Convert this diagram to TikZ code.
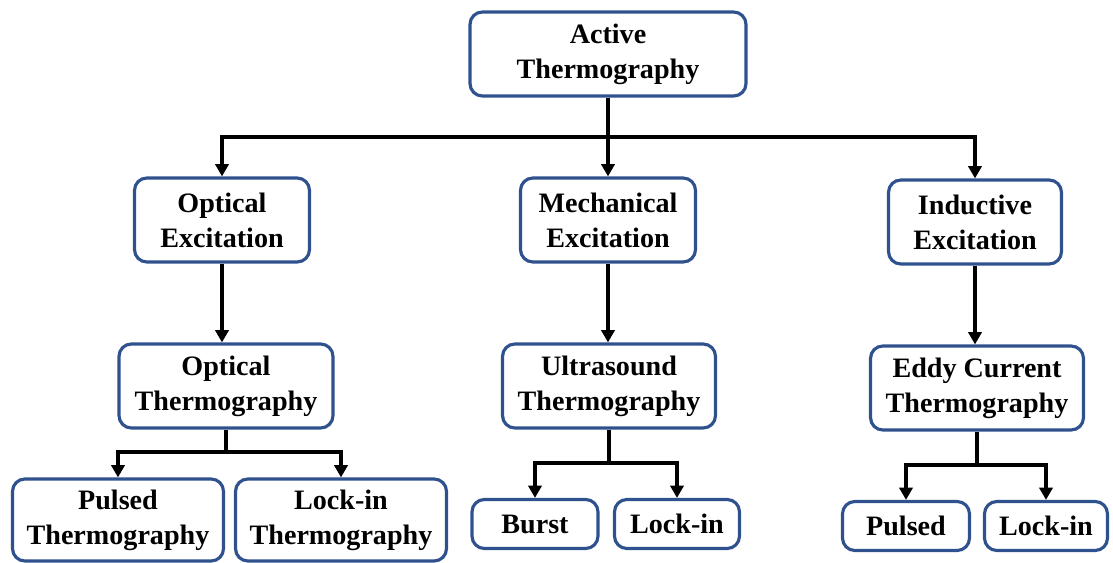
\documentclass[tikz,border=0pt]{standalone}
\usepackage{fontspec}
\setmainfont{Liberation Serif}
\usepackage{xcolor}
\usetikzlibrary{arrows.meta, positioning}

\definecolor{boxblue}{HTML}{2F528F}

\tikzset{
  box/.style={draw=boxblue, line width=1.8pt, rounded corners=7pt, fill=white,
    align=center, inner sep=0pt, font=\bfseries\fontsize{16}{20}\selectfont},
  bigbox/.style={box, minimum height=1.68cm},
  smallbox/.style={box, minimum height=0.98cm},
  link/.style={line width=1.9pt, -{Triangle[length=7pt,width=7.5pt]}},
  trunk/.style={line width=1.9pt}
}

\begin{document}
\begin{tikzpicture}[x=0.02cm, y=-0.02cm]
    \useasboundingbox (0,0) rectangle (1113,563);

    % Root
    \node[bigbox, minimum width=5.52cm] (active) at (608,54) {Active\\Thermography};

    % Excitation types
    \node[bigbox, minimum width=3.5cm] (optexc) at (222,220) {Optical\\Excitation};
    \node[bigbox, minimum width=3.5cm] (mechexc) at (608,220) {Mechanical\\Excitation};
    \node[bigbox, minimum width=3.46cm] (indexc) at (975,222) {Inductive\\Excitation};

    % Thermography methods
    \node[bigbox, minimum width=4.28cm] (optthermo) at (226,386) {Optical\\Thermography};
    \node[bigbox, minimum width=4.26cm] (usthermo) at (609,386) {Ultrasound\\Thermography};
    \node[bigbox, minimum width=4.26cm] (eddythermo) at (977,388) {Eddy Current\\Thermography};

    % Modes
    \node[bigbox, minimum width=4.22cm, minimum height=1.64cm] (pulsedopt) at (118,520) {Pulsed\\Thermography};
    \node[bigbox, minimum width=4.22cm, minimum height=1.64cm] (lockinopt) at (341,520) {Lock-in\\Thermography};
    \node[smallbox, minimum width=2.52cm] (burst) at (535,524) {Burst};
    \node[smallbox, minimum width=2.5cm] (lockinus) at (677,524) {Lock-in};
    \node[smallbox, minimum width=2.54cm] (pulsededdy) at (906,526) {Pulsed};
    \node[smallbox, minimum width=2.46cm] (lockineddy) at (1046,526) {Lock-in};

    % Branch levels
    \coordinate (topbar) at (0,137);
    \coordinate (optbar) at (0,452);
    \coordinate (usbar) at (0,463);
    \coordinate (eddybar) at (0,465);

    % Connectors
    \draw[trunk] (active.south) -- (active.south |- topbar);
    \draw[link] (active.south |- topbar) -| (optexc.north);
    \draw[link] (active.south |- topbar) -| (indexc.north);
    \draw[link] (active.south) -- (mechexc.north);

    \draw[link] (optexc) -- (optexc.south |- optthermo.north);
    \draw[link] (mechexc) -- (mechexc.south |- usthermo.north);
    \draw[link] (indexc) -- (indexc.south |- eddythermo.north);

    \draw[trunk] (optthermo.south) -- (optthermo.south |- optbar);
    \draw[link] (optthermo.south |- optbar) -| (pulsedopt.north);
    \draw[link] (optthermo.south |- optbar) -| (lockinopt.north);

    \draw[trunk] (usthermo.south) -- (usthermo.south |- usbar);
    \draw[link] (usthermo.south |- usbar) -| (burst.north);
    \draw[link] (usthermo.south |- usbar) -| (lockinus.north);

    \draw[trunk] (eddythermo.south) -- (eddythermo.south |- eddybar);
    \draw[link] (eddythermo.south |- eddybar) -| (pulsededdy.north);
    \draw[link] (eddythermo.south |- eddybar) -| (lockineddy.north);
\end{tikzpicture}
\end{document}
